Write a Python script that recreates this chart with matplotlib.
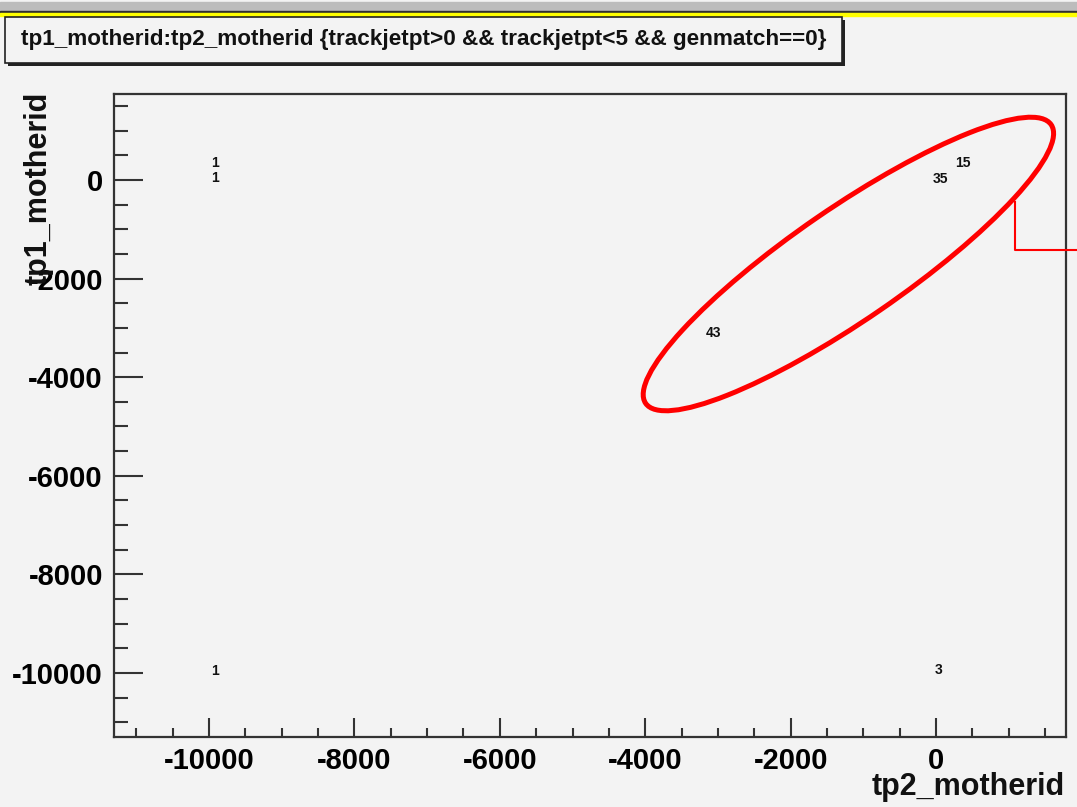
import matplotlib
matplotlib.use("Agg")
import matplotlib.pyplot as plt
from matplotlib.patches import Ellipse, Rectangle
from matplotlib.lines import Line2D
from matplotlib.ticker import MultipleLocator

plt.rcParams['font.family'] = ['Liberation Sans', 'DejaVu Sans']
plt.rcParams['axes.unicode_minus'] = False

# Data: bin contents drawn as text (ROOT "TEXT" option)
x_pos = [-9917, -9917, -9917, 65, 371, -3067, 41]
y_pos = [345, 41, -9959, 26, 345, -3103, -9939]
counts = [1, 1, 1, 35, 15, 43, 3]

title = "tp1_motherid:tp2_motherid {trackjetpt>0 && trackjetpt<5 && genmatch==0}"
xlabel = "tp2_motherid"
ylabel = "tp1_motherid"
x_ticks = [-10000, -8000, -6000, -4000, -2000, 0]
y_ticks = [0, -2000, -4000, -6000, -8000, -10000]

W, H = 1077, 807
bg = '#f3f3f3'
fig = plt.figure(figsize=(W / 100, H / 100), dpi=100, facecolor=bg)

def px(x, y):
    return (x / W, 1 - y / H)

# top window bands
fig.patches.append(Rectangle(px(0, 11), 1, 9 / H, transform=fig.transFigure, color='#bcbcbc', zorder=0))
fig.patches.append(Rectangle(px(0, 13), 1, 2 / H, transform=fig.transFigure, color='#303030', zorder=0))
fig.patches.append(Rectangle(px(0, 16), 1, 3 / H, transform=fig.transFigure, color='#ffff00', zorder=0))

# axes
ax = fig.add_axes([114 / W, 1 - 737 / H, (1066 - 114) / W, (737 - 94) / H])
ax.set_facecolor(bg)
ax.set_xlim(-11306, 1787)
ax.set_ylim(-11298, 1744)
for s in ax.spines.values():
    s.set_linewidth(1.6)
    s.set_color('#333333')
ax.xaxis.set_major_locator(MultipleLocator(2000))
ax.xaxis.set_minor_locator(MultipleLocator(500))
ax.yaxis.set_major_locator(MultipleLocator(2000))
ax.yaxis.set_minor_locator(MultipleLocator(500))
ax.set_xticks(x_ticks)
ax.set_yticks(y_ticks)
ax.set_xticklabels([str(v) for v in x_ticks])
ax.set_yticklabels([str(v) for v in y_ticks])
ax.tick_params(axis='x', which='major', direction='in', length=14, width=1.5,
               labelsize=21, pad=7, color='#333333')
ax.tick_params(axis='x', which='minor', direction='in', length=6.5, width=1.5, color='#333333')
ax.tick_params(axis='y', which='major', direction='in', length=21, width=1.5,
               labelsize=21, pad=8, color='#333333')
ax.tick_params(axis='y', which='minor', direction='in', length=10, width=1.5, color='#333333')
for lab in ax.get_xticklabels() + ax.get_yticklabels():
    lab.set_fontweight('bold')

for x, y, c in zip(x_pos, y_pos, counts):
    ax.text(x, y, str(c), ha='center', va='center', fontsize=10, fontweight='bold', color='#111111')

# axis titles
fig.text(*px(1065, 787), xlabel, ha='right', va='center', fontsize=22, fontweight='bold', color='#111111')
fig.text(*px(39, 92), ylabel, ha='center', va='top', rotation=90, fontsize=22, fontweight='bold', color='#111111')

# title box with shadow
fig.patches.append(Rectangle(px(8, 66), (842 - 5) / W, (63 - 17) / H, transform=fig.transFigure,
                             facecolor='#222222', edgecolor='none', zorder=1))
fig.patches.append(Rectangle(px(5, 63), (842 - 5) / W, (63 - 17) / H, transform=fig.transFigure,
                             facecolor=bg, edgecolor='#222222', linewidth=1.2, zorder=2))
fig.text(*px(424, 40), title, ha='center', va='center', fontsize=16.2, fontweight='bold',
         color='#111111', zorder=3)

# red annotation ellipse and connector
ell = Ellipse((848.4 / 100, (H - 264) / 100), 4.92, 1.12, angle=34.5,
              transform=fig.dpi_scale_trans, fill=False, edgecolor='#ff0000', linewidth=3.6,
              zorder=10, clip_on=False)
fig.patches.append(ell)
fig.lines.append(Line2D([1015 / 100, 1015 / 100, 1077 / 100],
                        [(H - 202) / 100, (H - 250) / 100, (H - 250) / 100],
                        transform=fig.dpi_scale_trans, color='#ff0000', linewidth=1.5, zorder=10))

fig.savefig('out.png', dpi=100, facecolor=bg)
